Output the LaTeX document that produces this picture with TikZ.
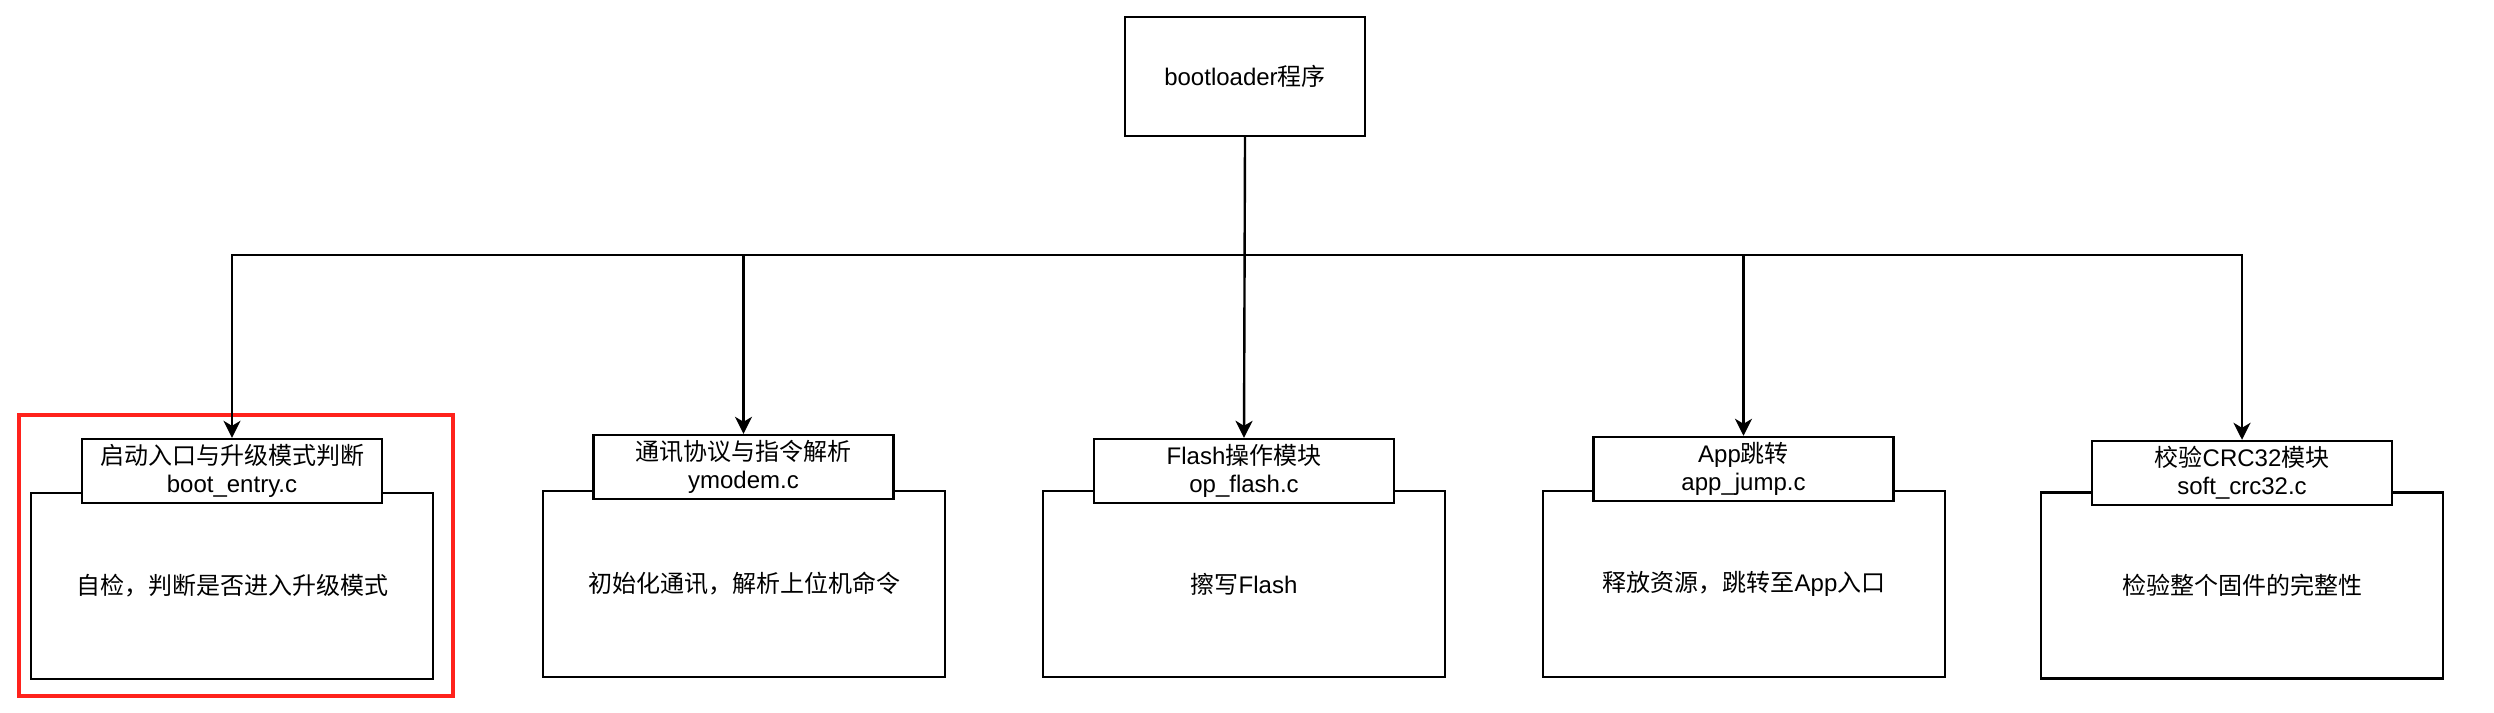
\documentclass[tikz,border=0pt]{standalone}
\usepackage{fontspec}
\setmainfont{Liberation Sans}
\newfontfamily\cjk{Noto Sans CJK SC}
\usetikzlibrary{arrows.meta}
\definecolor{hlred}{RGB}{255,34,28}
\begin{document}
\begin{tikzpicture}[x=1pt,y=-1pt,
  every node/.style={font=\fontsize{24}{28}\selectfont},
  box/.style={draw=black,line width=2.4pt,fill=white,inner sep=0pt,align=center},
  topbox/.style={box,minimum width=240pt,minimum height=119pt},
  lblbox/.style={box,minimum width=300pt,minimum height=64pt},
  cntbox/.style={box,minimum width=402pt,minimum height=186pt},
  arr/.style={draw=black,line width=2.4pt,-{Stealth[length=17pt,width=17pt,inset=5pt]}},
  hlbox/.style={draw=hlred,line width=3.6pt}
]
\useasboundingbox (0,0) rectangle (2494,712);

\node[topbox] (top) at (1245,76.5) {bootloader{\cjk 程序}};
\coordinate (bus) at (1245,255);

% group 1
\node[cntbox] (c1) at (232,586) {{\cjk 自检，判断是否进入升级模式}};
\node[lblbox] (l1) at (232,471) {{\cjk 启动入口与升级模式判断}\\boot\_entry.c};
% group 2
\node[cntbox] (c2) at (744,584) {{\cjk 初始化通讯，解析上位机命令}};
\node[lblbox] (l2) at (743.5,467) {{\cjk 通讯协议与指令解析}\\ymodem.c};
% group 3
\node[cntbox] (c3) at (1244,584) {{\cjk 擦写}Flash};
\node[lblbox] (l3) at (1244,471) {Flash{\cjk 操作模块}\\op\_flash.c};
% group 4
\node[cntbox] (c4) at (1744,584) {{\cjk 释放资源，跳转至}App{\cjk 入口}};
\node[lblbox] (l4) at (1743.5,469) {App{\cjk 跳转}\\app\_jump.c};
% group 5
\node[cntbox] (c5) at (2242,585.5) {{\cjk 检验整个固件的完整性}};
\node[lblbox] (l5) at (2242,473) {{\cjk 校验}CRC32{\cjk 模块}\\soft\_crc32.c};

% highlight
\node[hlbox,inner sep=0pt,minimum width=434pt,minimum height=281pt] (hl) at (236,555.5) {};

% connectors
\draw[arr] (top.south) |- (l1.north |- bus) -- (l1.north);
\draw[arr] (top.south) |- (l2.north |- bus) -- (l2.north);
\draw[arr] (top.south) -- (l3.north);
\draw[arr] (top.south) |- (l4.north |- bus) -- (l4.north);
\draw[arr] (top.south) |- (l5.north |- bus) -- (l5.north);
\end{tikzpicture}
\end{document}
